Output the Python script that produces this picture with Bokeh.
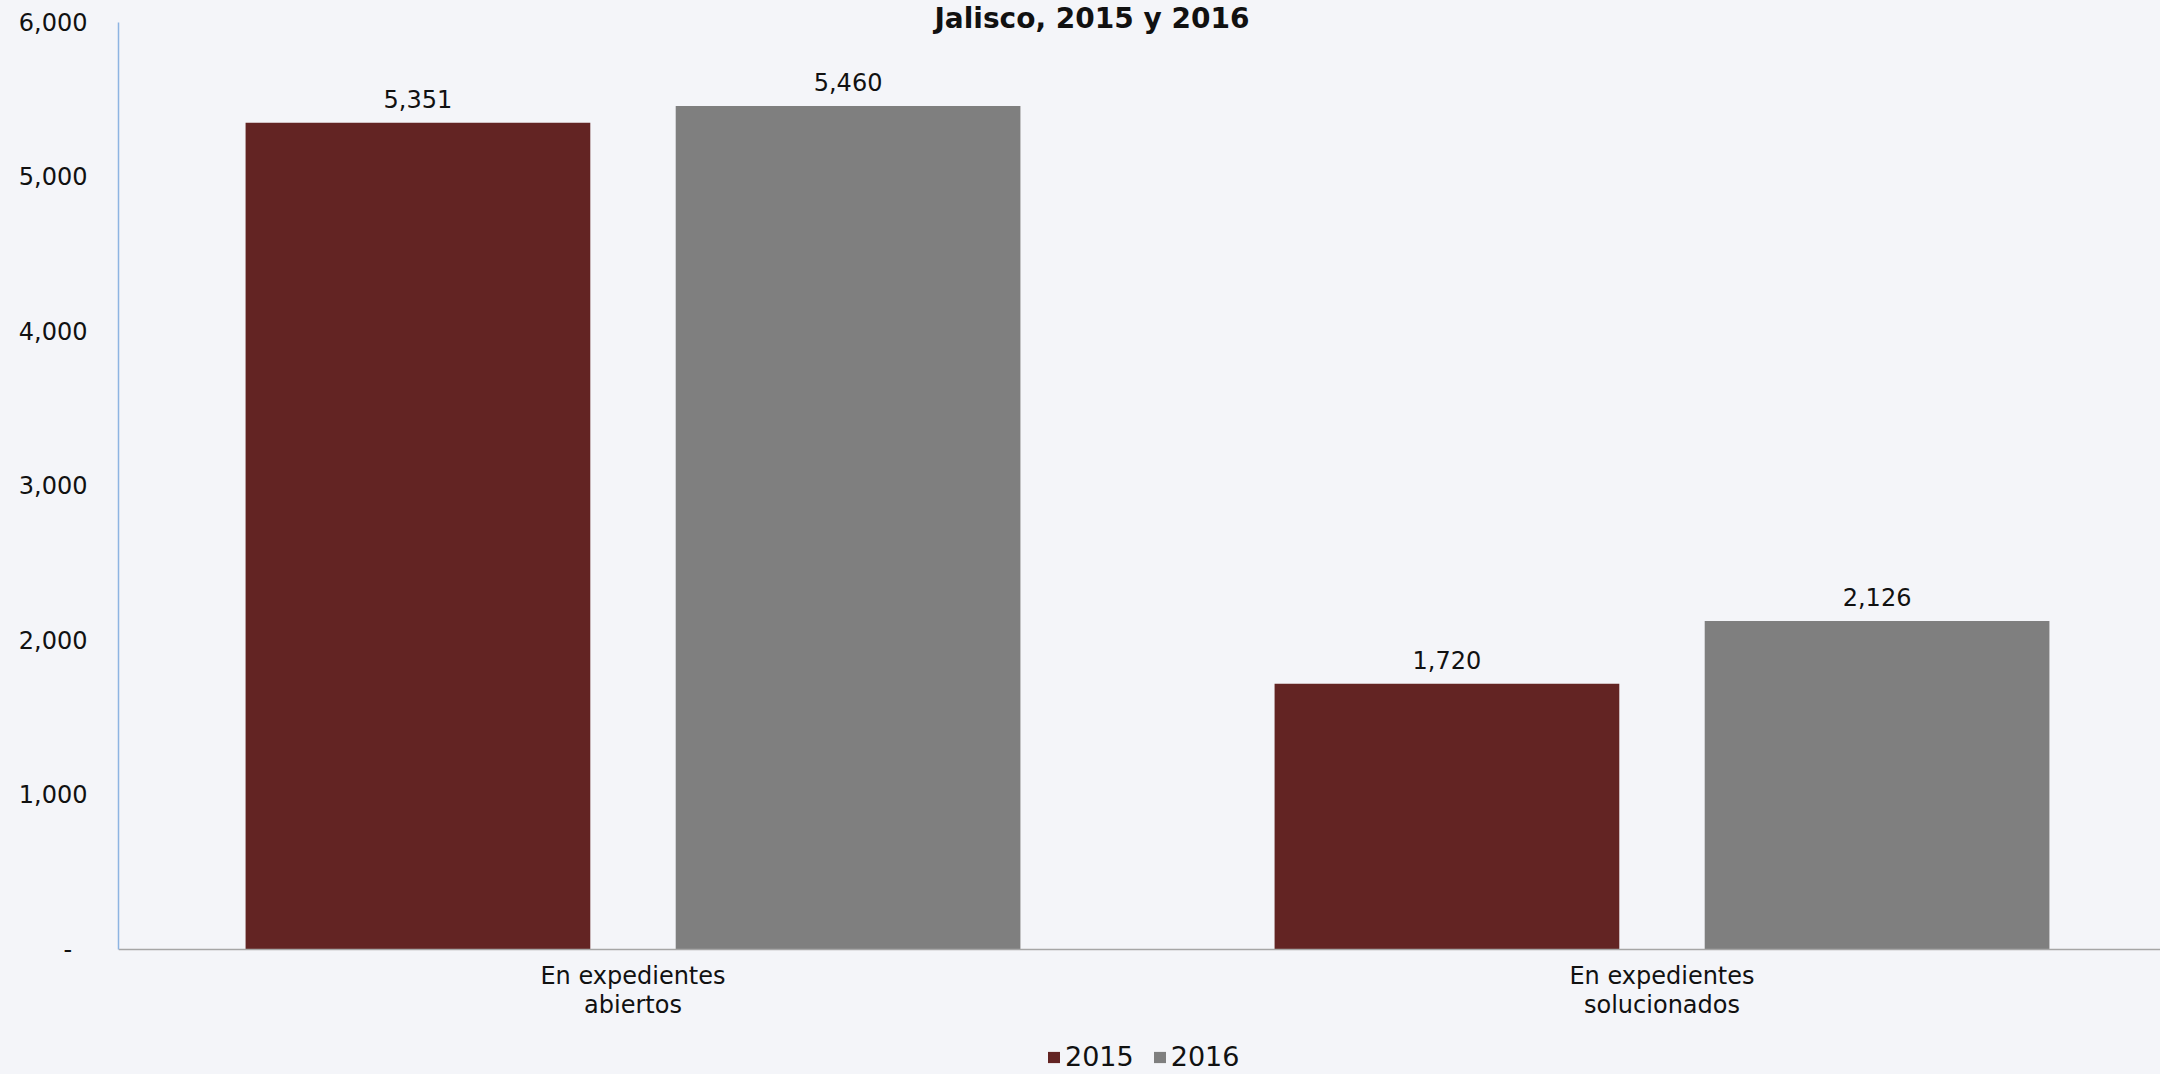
from bokeh.plotting import figure
from bokeh.models import Range1d, FixedTicker, NumeralTickFormatter, Label, Legend, LegendItem, ColumnDataSource
from bokeh.core.properties import value
from bokeh.embed import file_html
from bokeh.resources import INLINE
import numpy as np

# ---- data ----
categories = ["En expedientes\nabiertos", "En expedientes\nsolucionados"]
years = ["2015", "2016"]
values_2015 = [5351, 1720]
values_2016 = [5460, 2126]
y_ticks = [0, 1000, 2000, 3000, 4000, 5000, 6000]
title_text = "Jalisco, 2015 y 2016"

# ---- style ----
BG = "#F4F5F9"
C2015 = "#632423"
C2016 = "#7F7F7F"
FONT = "DejaVu Sans"

W, H = 2160, 1074
left = 118
zero_px = 949          # screen y of value 0
top_px = 22            # screen y of value 6000
px_per_unit = (zero_px - top_px) / 6000.0
y_start = -(H - zero_px) / px_per_unit
y_end = 6000 + top_px / px_per_unit
cat_px = 1029.0
x_end = (W - left) / cat_px

p = figure(width=W, height=H, output_backend="svg", toolbar_location=None,
           x_range=Range1d(0, x_end), y_range=Range1d(y_start, y_end),
           min_border_left=left, min_border_right=0, min_border_top=0,
           min_border_bottom=0)
p.background_fill_color = BG
p.border_fill_color = BG
p.outline_line_color = None
p.xgrid.visible = False
p.ygrid.visible = False

xs = np.arange(len(categories)) + 0.5
off = 0.209
bw = 0.335

src15 = ColumnDataSource(dict(x=xs - off, top=values_2015,
                              lbl=[f"{v:,}" for v in values_2015]))
src16 = ColumnDataSource(dict(x=xs + off, top=values_2016,
                              lbl=[f"{v:,}" for v in values_2016]))

r15 = p.vbar(x="x", top="top", bottom=0, width=bw, source=src15, fill_color=C2015, line_color=None)
r16 = p.vbar(x="x", top="top", bottom=0, width=bw, source=src16, fill_color=C2016, line_color=None)

for s in (src15, src16):
    p.text(x="x", y="top", text="lbl", source=s, text_align="center",
           text_baseline="alphabetic", y_offset=-24,
           text_font=value(FONT), text_font_size="24px", text_color="#111111")

# title
p.add_layout(Label(x=0.946, y=y_end - 18 / px_per_unit, text=title_text,
                   text_align="center", text_baseline="middle",
                   text_font=FONT, text_font_size="28px", text_font_style="bold",
                   text_color="#111111"))

# y axis
ya = p.yaxis[0]
ya.ticker = FixedTicker(ticks=y_ticks)
ya.formatter = NumeralTickFormatter(format="0,0")
ya.major_label_overrides = {0: "-\u00a0\u00a0"}
ya.bounds = (0, 6000)
ya.axis_line_color = "#8DB4E2"
ya.axis_line_width = 1.5
ya.major_tick_out = 0
ya.major_tick_in = 0
ya.minor_tick_out = 0
ya.minor_tick_in = 0
ya.major_label_standoff = 31
ya.major_label_text_font = FONT
ya.major_label_text_font_size = "24px"
ya.major_label_text_color = "#111111"

# x axis drawn at value 0
xa = p.xaxis[0]
xa.fixed_location = 0
xa.ticker = FixedTicker(ticks=list(xs))
xa.major_label_overrides = {float(x): c for x, c in zip(xs, categories)}
xa.axis_line_color = "#A6A6A6"
xa.axis_line_width = 1.5
xa.major_tick_out = 0
xa.major_tick_in = 0
xa.minor_tick_out = 0
xa.minor_tick_in = 0
xa.major_label_standoff = 12
xa.major_label_text_font = FONT
xa.major_label_text_font_size = "24px"
xa.major_label_text_color = "#111111"
xa.major_label_text_line_height = 1.05

legend = Legend(items=[LegendItem(label=years[0], renderers=[r15]),
                       LegendItem(label=years[1], renderers=[r16])],
                orientation="horizontal", location=(928, 2),
                glyph_width=15, glyph_height=14, label_standoff=4, spacing=18,
                padding=0, margin=0, border_line_color=None,
                background_fill_alpha=0,
                label_text_font=FONT, label_text_font_size="27px",
                label_text_color="#111111")
p.add_layout(legend)

html = file_html(p, INLINE)
html = html.replace("<head>", "<head><style>body{background:%s}</style>" % BG, 1)
open("out.html", "w").write(html)
